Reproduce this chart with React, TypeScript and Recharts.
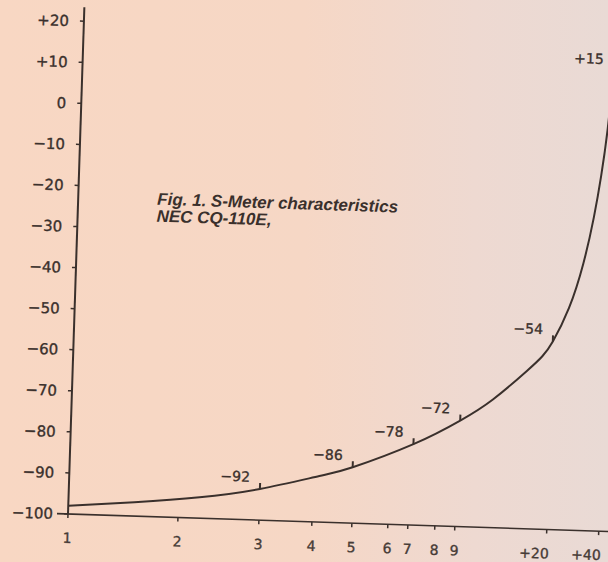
import React from 'react'
import {
  ComposedChart,
  Line,
  Scatter,
  XAxis,
  YAxis,
  ReferenceLine,
} from 'recharts'

// S-meter scale: printed label and its position along the meter scale
const sLabels = ['1', '2', '3', '4', '5', '6', '7', '8', '9', '+20', '+40']
const sScalePos = [0, 110, 191, 244, 284, 320, 340, 367, 387, 479, 531]

// input level (dBm) against meter position
const curvePos = [0, 66, 131, 191, 250, 283, 343, 389, 421, 454, 469, 479, 494, 507, 516, 522, 527, 531]
const curveDbm = [-98, -96.6, -94.9, -92.4, -88.8, -86.4, -80.3, -74.2, -68.8, -61.6, -57.9, -54.2, -46, -35, -23.7, -13.5, -2, 12]

// marked points on the curve (index into the curve) and their printed values
const markIdx = [3, 5, 6, 7, 11, 17]
const markText = ['−92', '−86', '−78', '−72', '−54', '+15']

const yTicks = [-100, -90, -80, -70, -60, -50, -40, -30, -20, -10, 0, 10, 20]

const X_MIN = -11
const X_MAX = 560
const INK = '#3a302c'
const LABEL_FONT = '"DejaVu Sans", sans-serif'

const curve = curvePos.map((p, i) => ({ pos: p, dbm: curveDbm[i] }))
const marks = markIdx.map((k, i) => ({ pos: curvePos[k], dbm: curveDbm[k], text: markText[i] }))

const fmtY = (v: number) => (v > 0 ? `+${v}` : v < 0 ? `−${Math.abs(v)}` : '0')

const textStyle = {
  fontFamily: LABEL_FONT,
  fill: INK,
  stroke: INK,
  strokeWidth: 0.35,
}

function YTick(props: any) {
  const { x, y, payload } = props
  const ax = x + 11 // y axis sits at value 0, 11 units right of plot edge
  return (
    <g>
      <line x1={ax - 4} x2={ax} y1={y} y2={y} stroke={INK} strokeWidth={1.5} />
      <text x={ax - 15} y={y} dy="0.36em" textAnchor="end" fontSize={15} {...textStyle}>
        {fmtY(payload.value)}
      </text>
    </g>
  )
}

function XTick(props: any) {
  const { x, y, payload } = props
  const label = sLabels[sScalePos.indexOf(payload.value)]
  const shift = label.startsWith('+') ? -12 : 0
  return (
    <text x={x + shift} y={y} dy="0.71em" textAnchor="middle" fontSize={14} {...textStyle} fill="#463b36" stroke="#463b36">
      {label}
    </text>
  )
}

function Mark(props: any) {
  const { cx, cy, payload } = props
  return (
    <g>
      <line x1={cx} x2={cx} y1={cy} y2={cy - 6} stroke={INK} strokeWidth={2} />
      <text x={cx - 25} y={cy - 12} dy="0.36em" textAnchor="middle" fontSize={14} {...textStyle}>
        {payload.text}
      </text>
    </g>
  )
}

export default function App() {
  return (
    <div
      style={{
        position: 'fixed',
        left: 0,
        top: 0,
        width: 608,
        height: 562,
        overflow: 'hidden',
        background: 'linear-gradient(90deg, #f8d7c3 0%, #f6d7c5 50%, #eed9d1 78%, #e9dad5 100%)',
      }}
    >
      <div
        style={{
          position: 'absolute',
          left: 0,
          top: 0,
          width: 628,
          height: 562,
          transform: 'rotate(1.85deg)',
          transformOrigin: '68px 514px',
        }}
      >
        <ComposedChart width={628} height={562} data={curve} margin={{ top: 7, right: 0, bottom: 0, left: 0 }}>
          <XAxis
            dataKey="pos"
            type="number"
            domain={[X_MIN, X_MAX]}
            ticks={sScalePos}
            allowDataOverflow
            interval={0}
            height={48}
            axisLine={false}
            tickSize={4}
            tickMargin={15}
            tickLine={{ stroke: INK, strokeWidth: 1.5 }}
            tick={<XTick />}
          />
          <YAxis
            type="number"
            domain={[-100, 23.4]}
            ticks={yTicks}
            allowDataOverflow
            interval={0}
            width={57}
            axisLine={false}
            tickLine={false}
            tickSize={0}
            tickMargin={0}
            tick={<YTick />}
          />
          <ReferenceLine x={0} stroke={INK} strokeWidth={2} />
          <ReferenceLine y={-100} stroke={INK} strokeWidth={1.6} />
          <Line
            type="natural"
            dataKey="dbm"
            stroke={INK}
            strokeWidth={2}
            dot={false}
            isAnimationActive={false}
          />
          <Scatter data={marks} dataKey="dbm" shape={<Mark />} isAnimationActive={false} />
        </ComposedChart>
        <svg width={628} height={562} style={{ position: 'absolute', left: 0, top: 0, pointerEvents: 'none' }}>
          <g fontFamily='"Liberation Sans", Arial, sans-serif' fontStyle="italic" fontWeight="bold" fontSize={17} fill={INK}>
            <text x={147} y={202}>Fig. 1. S-Meter characteristics</text>
            <text x={147} y={219}>NEC CQ-110E,</text>
          </g>
        </svg>
      </div>
    </div>
  )
}
